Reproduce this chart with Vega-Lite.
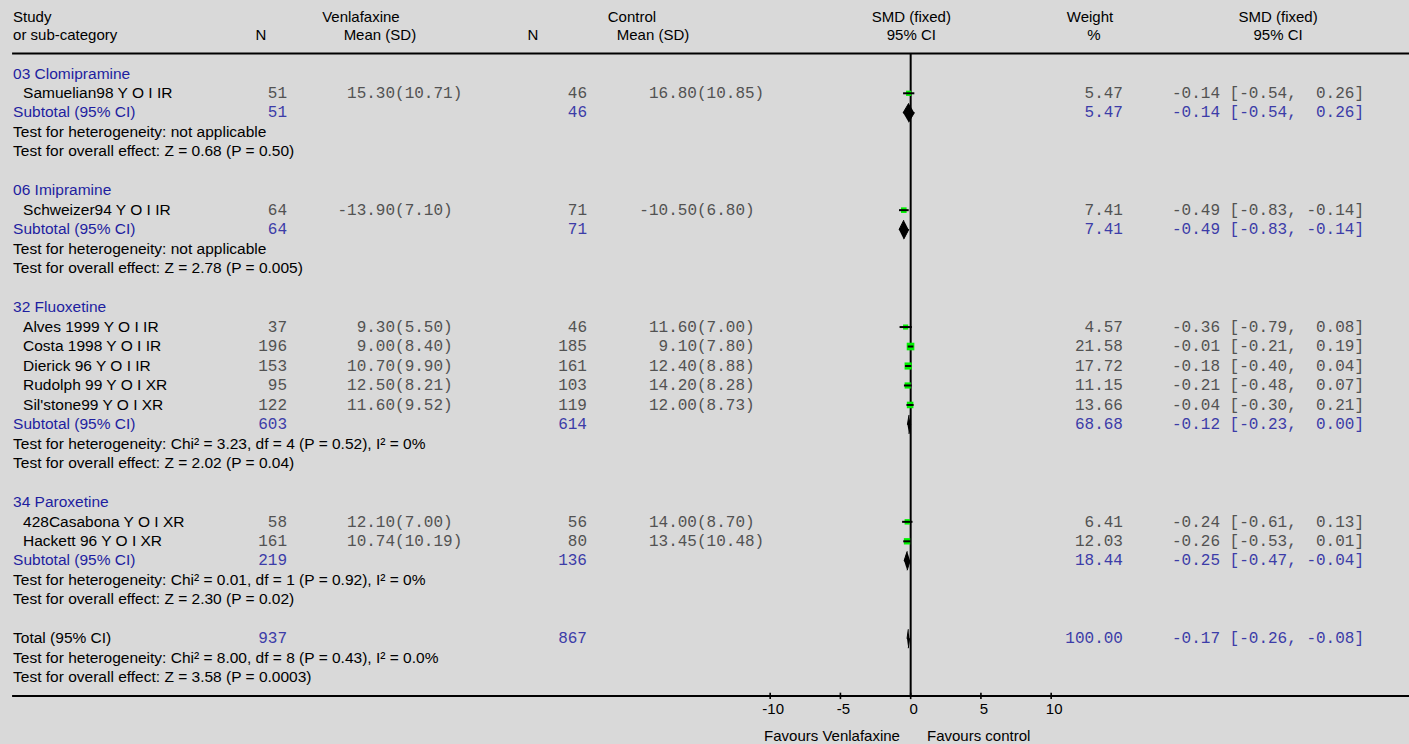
{
  "$schema": "https://vega.github.io/schema/vega-lite/v6.json",
  "width": 1409,
  "height": 744,
  "autosize": {"type": "none"},
  "padding": 0,
  "background": "#d9d9d9",
  "config": {
    "view": {"stroke": null},
    "locale": {"number": {"decimal": ".", "thousands": ",", "grouping": [3], "currency": ["(", ")"], "minus": "-"}}
  },
  "resolve": {"scale": {"y": "independent"}},
  "datasets": {
    "rows": [
      {"row": 0, "kind": "group", "label": "03 Clomipramine"},
      {"row": 1, "kind": "study", "label": "Samuelian98 Y O I IR", "n1": 51, "m1": 15.30, "sd1": 10.71, "n2": 46, "m2": 16.80, "sd2": 10.85, "w": 5.47, "smd": -0.14, "lo": -0.54, "hi": 0.26, "ci": "-0.14 [-0.54,\u00a0 0.26]"},
      {"row": 2, "kind": "sub", "label": "Subtotal (95% CI)", "n1": 51, "n2": 46, "w": 5.47, "smd": -0.14, "lo": -0.54, "hi": 0.26, "ci": "-0.14 [-0.54,\u00a0 0.26]"},
      {"row": 3, "kind": "test", "label": "Test for heterogeneity: not applicable"},
      {"row": 4, "kind": "test", "label": "Test for overall effect: Z = 0.68 (P = 0.50)"},
      {"row": 6, "kind": "group", "label": "06 Imipramine"},
      {"row": 7, "kind": "study", "label": "Schweizer94 Y O I IR", "n1": 64, "m1": -13.90, "sd1": 7.10, "n2": 71, "m2": -10.50, "sd2": 6.80, "w": 7.41, "smd": -0.49, "lo": -0.83, "hi": -0.14, "ci": "-0.49 [-0.83, -0.14]"},
      {"row": 8, "kind": "sub", "label": "Subtotal (95% CI)", "n1": 64, "n2": 71, "w": 7.41, "smd": -0.49, "lo": -0.83, "hi": -0.14, "ci": "-0.49 [-0.83, -0.14]"},
      {"row": 9, "kind": "test", "label": "Test for heterogeneity: not applicable"},
      {"row": 10, "kind": "test", "label": "Test for overall effect: Z = 2.78 (P = 0.005)"},
      {"row": 12, "kind": "group", "label": "32 Fluoxetine"},
      {"row": 13, "kind": "study", "label": "Alves 1999 Y O I IR", "n1": 37, "m1": 9.30, "sd1": 5.50, "n2": 46, "m2": 11.60, "sd2": 7.00, "w": 4.57, "smd": -0.36, "lo": -0.79, "hi": 0.08, "ci": "-0.36 [-0.79,\u00a0 0.08]"},
      {"row": 14, "kind": "study", "label": "Costa 1998 Y O I IR", "n1": 196, "m1": 9.00, "sd1": 8.40, "n2": 185, "m2": 9.10, "sd2": 7.80, "w": 21.58, "smd": -0.01, "lo": -0.21, "hi": 0.19, "ci": "-0.01 [-0.21,\u00a0 0.19]"},
      {"row": 15, "kind": "study", "label": "Dierick 96 Y O I IR", "n1": 153, "m1": 10.70, "sd1": 9.90, "n2": 161, "m2": 12.40, "sd2": 8.88, "w": 17.72, "smd": -0.18, "lo": -0.40, "hi": 0.04, "ci": "-0.18 [-0.40,\u00a0 0.04]"},
      {"row": 16, "kind": "study", "label": "Rudolph 99 Y O I XR", "n1": 95, "m1": 12.50, "sd1": 8.21, "n2": 103, "m2": 14.20, "sd2": 8.28, "w": 11.15, "smd": -0.21, "lo": -0.48, "hi": 0.07, "ci": "-0.21 [-0.48,\u00a0 0.07]"},
      {"row": 17, "kind": "study", "label": "Sil'stone99 Y O I XR", "n1": 122, "m1": 11.60, "sd1": 9.52, "n2": 119, "m2": 12.00, "sd2": 8.73, "w": 13.66, "smd": -0.04, "lo": -0.30, "hi": 0.21, "ci": "-0.04 [-0.30,\u00a0 0.21]"},
      {"row": 18, "kind": "sub", "label": "Subtotal (95% CI)", "n1": 603, "n2": 614, "w": 68.68, "smd": -0.12, "lo": -0.23, "hi": 0.00, "ci": "-0.12 [-0.23,\u00a0 0.00]"},
      {"row": 19, "kind": "test", "label": "Test for heterogeneity: Chi² = 3.23, df = 4 (P = 0.52), I² = 0%"},
      {"row": 20, "kind": "test", "label": "Test for overall effect: Z = 2.02 (P = 0.04)"},
      {"row": 22, "kind": "group", "label": "34 Paroxetine"},
      {"row": 23, "kind": "study", "label": "428Casabona Y O I XR", "n1": 58, "m1": 12.10, "sd1": 7.00, "n2": 56, "m2": 14.00, "sd2": 8.70, "w": 6.41, "smd": -0.24, "lo": -0.61, "hi": 0.13, "ci": "-0.24 [-0.61,\u00a0 0.13]"},
      {"row": 24, "kind": "study", "label": "Hackett 96 Y O I XR", "n1": 161, "m1": 10.74, "sd1": 10.19, "n2": 80, "m2": 13.45, "sd2": 10.48, "w": 12.03, "smd": -0.26, "lo": -0.53, "hi": 0.01, "ci": "-0.26 [-0.53,\u00a0 0.01]"},
      {"row": 25, "kind": "sub", "label": "Subtotal (95% CI)", "n1": 219, "n2": 136, "w": 18.44, "smd": -0.25, "lo": -0.47, "hi": -0.04, "ci": "-0.25 [-0.47, -0.04]"},
      {"row": 26, "kind": "test", "label": "Test for heterogeneity: Chi² = 0.01, df = 1 (P = 0.92), I² = 0%"},
      {"row": 27, "kind": "test", "label": "Test for overall effect: Z = 2.30 (P = 0.02)"},
      {"row": 29, "kind": "total", "label": "Total (95% CI)", "n1": 937, "n2": 867, "w": 100.00, "smd": -0.17, "lo": -0.26, "hi": -0.08, "ci": "-0.17 [-0.26, -0.08]"},
      {"row": 30, "kind": "test", "label": "Test for heterogeneity: Chi² = 8.00, df = 8 (P = 0.43), I² = 0.0%"},
      {"row": 31, "kind": "test", "label": "Test for overall effect: Z = 3.58 (P = 0.0003)"}
    ],
    "hdr": [
      {"col": "study", "row": -2.9, "t": "Study"},
      {"col": "study", "row": -2, "t": "or sub-category"},
      {"col": "n1", "row": -2, "t": "N"},
      {"col": "g1", "row": -2.9, "t": "Venlafaxine"},
      {"col": "m1", "row": -2, "t": "Mean (SD)"},
      {"col": "n2", "row": -2, "t": "N"},
      {"col": "g2", "row": -2.9, "t": "Control"},
      {"col": "m2", "row": -2, "t": "Mean (SD)"},
      {"col": "smd", "row": -2.9, "t": "SMD (fixed)"},
      {"col": "smd", "row": -2, "t": "95% CI"},
      {"col": "w", "row": -2.9, "t": "Weight"},
      {"col": "wp", "row": -2, "t": "%"},
      {"col": "ci", "row": -2.9, "t": "SMD (fixed)"},
      {"col": "ci", "row": -2, "t": "95% CI"}
    ],
    "notes": [
      {"row": 34, "side": "left", "t": "Favours Venlafaxine"},
      {"row": 34, "side": "right", "t": "Favours control"}
    ],
    "ticks": [{"v": -10}, {"v": -5}, {"v": 0}, {"v": 5}, {"v": 10}],
    "vtx": [
      {"key": "lo", "up": 0, "dn": 0},
      {"key": "smd", "up": -1, "dn": 1},
      {"key": "hi", "up": 0, "dn": 0}
    ]
  },
  "layer": [
    {
      "data": {"values": [{}]},
      "mark": {"type": "rule", "color": "#000", "strokeWidth": 2},
      "encoding": {
        "x": {"datum": -63.96, "type": "quantitative", "scale": {"domain": [-64.82, 35.47], "nice": false, "zero": false}, "axis": null},
        "x2": {"datum": 35.47},
        "y": {"datum": -1.04, "type": "quantitative", "scale": {"domain": [-3.789, 34.405], "reverse": true, "nice": false, "zero": false}, "axis": null}
      }
    },
    {
      "data": {"values": [{}]},
      "mark": {"type": "rule", "color": "#000", "strokeWidth": 2},
      "encoding": {
        "x": {"datum": -63.96, "type": "quantitative", "scale": {"domain": [-64.82, 35.47], "nice": false, "zero": false}, "axis": null},
        "x2": {"datum": 35.47},
        "y": {"datum": 31.94, "type": "quantitative", "scale": {"domain": [-3.789, 34.405], "reverse": true, "nice": false, "zero": false}, "axis": null}
      }
    },
    {
      "data": {"values": [{}]},
      "mark": {"type": "rule", "color": "#000", "strokeWidth": 2},
      "encoding": {
        "x": {"datum": 0, "type": "quantitative", "scale": {"domain": [-64.82, 35.47], "nice": false, "zero": false}, "axis": null},
        "y": {"datum": -1.04, "type": "quantitative", "scale": {"domain": [-3.789, 34.405], "reverse": true, "nice": false, "zero": false}, "axis": null},
        "y2": {"datum": 31.94}
      }
    },
    {
      "data": {"name": "ticks"},
      "mark": {"type": "rule", "color": "#000", "strokeWidth": 1.6},
      "encoding": {
        "x": {"field": "v", "type": "quantitative", "scale": {"domain": [-64.82, 35.47], "nice": false, "zero": false}, "axis": null},
        "y": {"datum": 31.77, "type": "quantitative", "scale": {"domain": [-3.789, 34.405], "reverse": true, "nice": false, "zero": false}, "axis": null},
        "y2": {"datum": 32.1}
      }
    },
    {
      "data": {"name": "ticks"},
      "mark": {"type": "text", "align": "center", "baseline": "alphabetic", "dy": 4.7, "dx": 3, "font": "Liberation Sans", "fontSize": 15, "color": "#000"},
      "encoding": {
        "x": {"field": "v", "type": "quantitative", "scale": {"domain": [-64.82, 35.47], "nice": false, "zero": false}, "axis": null},
        "y": {"datum": 32.62, "type": "quantitative", "scale": {"domain": [-3.789, 34.405], "reverse": true, "nice": false, "zero": false}, "axis": null},
        "text": {"field": "v", "type": "quantitative", "format": "d"}
      }
    },
    {
      "data": {"name": "rows"},
      "transform": [{"filter": "datum.kind === 'study'"}],
      "mark": {"type": "point", "shape": "square", "filled": true, "color": "#00f000", "opacity": 1},
      "encoding": {
        "x": {"field": "smd", "type": "quantitative", "scale": {"domain": [-64.82, 35.47], "nice": false, "zero": false}, "axis": null},
        "y": {"field": "row", "type": "quantitative", "scale": {"domain": [-3.789, 34.405], "reverse": true, "nice": false, "zero": false}, "axis": null},
        "size": {"field": "w", "type": "quantitative", "scale": {"domain": [4.5, 21.6], "range": [26, 58]}, "legend": null}
      }
    },
    {
      "data": {"name": "rows"},
      "transform": [{"filter": "datum.kind === 'study'"}],
      "mark": {"type": "rule", "color": "#000", "strokeWidth": 2},
      "encoding": {
        "x": {"field": "lo", "type": "quantitative", "scale": {"domain": [-64.82, 35.47], "nice": false, "zero": false}, "axis": null},
        "x2": {"field": "hi"},
        "y": {"field": "row", "type": "quantitative", "scale": {"domain": [-3.789, 34.405], "reverse": true, "nice": false, "zero": false}, "axis": null}
      }
    },
    {
      "data": {"name": "rows"},
      "transform": [
        {"filter": "datum.kind === 'sub' || datum.kind === 'total'"},
        {"fold": ["lo", "smd", "hi"]},
        {"lookup": "key", "from": {"data": {"name": "vtx"}, "key": "key", "fields": ["up", "dn"]}}
      ],
      "mark": {"type": "line", "filled": true, "fill": "#000", "stroke": "#000", "strokeWidth": 1},
      "encoding": {
        "x": {"field": "value", "type": "quantitative", "scale": {"domain": [-64.82, 35.47], "nice": false, "zero": false}, "axis": null},
        "y": {"field": "row", "type": "ordinal", "scale": {"type": "point", "domain": [0,1,2,3,4,5,6,7,8,9,10,11,12,13,14,15,16,17,18,19,20,21,22,23,24,25,26,27,28,29,30,31], "range": [73.8, 677.68], "padding": 0}, "axis": null},
        "yOffset": {"field": "up", "type": "quantitative", "scale": {"domain": [-1, 1], "range": [-9.5, 9.5]}},
        "detail": {"field": "row", "type": "nominal"}
      }
    },
    {
      "data": {"name": "rows"},
      "transform": [
        {"filter": "datum.kind === 'sub' || datum.kind === 'total'"},
        {"fold": ["lo", "smd", "hi"]},
        {"lookup": "key", "from": {"data": {"name": "vtx"}, "key": "key", "fields": ["up", "dn"]}}
      ],
      "mark": {"type": "line", "filled": true, "fill": "#000", "stroke": "#000", "strokeWidth": 1},
      "encoding": {
        "x": {"field": "value", "type": "quantitative", "scale": {"domain": [-64.82, 35.47], "nice": false, "zero": false}, "axis": null},
        "y": {"field": "row", "type": "ordinal", "scale": {"type": "point", "domain": [0,1,2,3,4,5,6,7,8,9,10,11,12,13,14,15,16,17,18,19,20,21,22,23,24,25,26,27,28,29,30,31], "range": [73.8, 677.68], "padding": 0}, "axis": null},
        "yOffset": {"field": "dn", "type": "quantitative", "scale": {"domain": [-1, 1], "range": [-9.5, 9.5]}},
        "detail": {"field": "row", "type": "nominal"}
      }
    },
    {
      "data": {"name": "hdr"},
      "transform": [{"filter": "datum.col === 'study'"}],
      "mark": {"type": "text", "align": "left", "baseline": "alphabetic", "dy": 4.7, "font": "Liberation Sans", "fontSize": 15, "color": "#000"},
      "encoding": {"x": {"datum": -63.89, "type": "quantitative", "scale": {"domain": [-64.82, 35.47], "nice": false, "zero": false}, "axis": null},
        "y": {"field": "row", "type": "quantitative", "scale": {"domain": [-3.789, 34.405], "reverse": true, "nice": false, "zero": false}, "axis": null}, "text": {"field": "t"}}
    },
    {
      "data": {"name": "hdr"},
      "transform": [{"filter": "datum.col === 'n1'"}],
      "mark": {"type": "text", "align": "center", "baseline": "alphabetic", "dy": 4.7, "font": "Liberation Sans", "fontSize": 15, "color": "#000"},
      "encoding": {"x": {"datum": -46.24, "type": "quantitative", "scale": {"domain": [-64.82, 35.47], "nice": false, "zero": false}, "axis": null},
        "y": {"field": "row", "type": "quantitative", "scale": {"domain": [-3.789, 34.405], "reverse": true, "nice": false, "zero": false}, "axis": null}, "text": {"field": "t"}}
    },
    {
      "data": {"name": "hdr"},
      "transform": [{"filter": "datum.col === 'g1'"}],
      "mark": {"type": "text", "align": "center", "baseline": "alphabetic", "dy": 4.7, "font": "Liberation Sans", "fontSize": 15, "color": "#000"},
      "encoding": {"x": {"datum": -39.13, "type": "quantitative", "scale": {"domain": [-64.82, 35.47], "nice": false, "zero": false}, "axis": null},
        "y": {"field": "row", "type": "quantitative", "scale": {"domain": [-3.789, 34.405], "reverse": true, "nice": false, "zero": false}, "axis": null}, "text": {"field": "t"}}
    },
    {
      "data": {"name": "hdr"},
      "transform": [{"filter": "datum.col === 'm1'"}],
      "mark": {"type": "text", "align": "center", "baseline": "alphabetic", "dy": 4.7, "font": "Liberation Sans", "fontSize": 15, "color": "#000"},
      "encoding": {"x": {"datum": -37.78, "type": "quantitative", "scale": {"domain": [-64.82, 35.47], "nice": false, "zero": false}, "axis": null},
        "y": {"field": "row", "type": "quantitative", "scale": {"domain": [-3.789, 34.405], "reverse": true, "nice": false, "zero": false}, "axis": null}, "text": {"field": "t"}}
    },
    {
      "data": {"name": "hdr"},
      "transform": [{"filter": "datum.col === 'n2'"}],
      "mark": {"type": "text", "align": "center", "baseline": "alphabetic", "dy": 4.7, "font": "Liberation Sans", "fontSize": 15, "color": "#000"},
      "encoding": {"x": {"datum": -26.88, "type": "quantitative", "scale": {"domain": [-64.82, 35.47], "nice": false, "zero": false}, "axis": null},
        "y": {"field": "row", "type": "quantitative", "scale": {"domain": [-3.789, 34.405], "reverse": true, "nice": false, "zero": false}, "axis": null}, "text": {"field": "t"}}
    },
    {
      "data": {"name": "hdr"},
      "transform": [{"filter": "datum.col === 'g2'"}],
      "mark": {"type": "text", "align": "center", "baseline": "alphabetic", "dy": 4.7, "font": "Liberation Sans", "fontSize": 15, "color": "#000"},
      "encoding": {"x": {"datum": -19.84, "type": "quantitative", "scale": {"domain": [-64.82, 35.47], "nice": false, "zero": false}, "axis": null},
        "y": {"field": "row", "type": "quantitative", "scale": {"domain": [-3.789, 34.405], "reverse": true, "nice": false, "zero": false}, "axis": null}, "text": {"field": "t"}}
    },
    {
      "data": {"name": "hdr"},
      "transform": [{"filter": "datum.col === 'm2'"}],
      "mark": {"type": "text", "align": "center", "baseline": "alphabetic", "dy": 4.7, "font": "Liberation Sans", "fontSize": 15, "color": "#000"},
      "encoding": {"x": {"datum": -18.34, "type": "quantitative", "scale": {"domain": [-64.82, 35.47], "nice": false, "zero": false}, "axis": null},
        "y": {"field": "row", "type": "quantitative", "scale": {"domain": [-3.789, 34.405], "reverse": true, "nice": false, "zero": false}, "axis": null}, "text": {"field": "t"}}
    },
    {
      "data": {"name": "hdr"},
      "transform": [{"filter": "datum.col === 'smd'"}],
      "mark": {"type": "text", "align": "center", "baseline": "alphabetic", "dy": 4.7, "font": "Liberation Sans", "fontSize": 15, "color": "#000"},
      "encoding": {"x": {"datum": 0.05, "type": "quantitative", "scale": {"domain": [-64.82, 35.47], "nice": false, "zero": false}, "axis": null},
        "y": {"field": "row", "type": "quantitative", "scale": {"domain": [-3.789, 34.405], "reverse": true, "nice": false, "zero": false}, "axis": null}, "text": {"field": "t"}}
    },
    {
      "data": {"name": "hdr"},
      "transform": [{"filter": "datum.col === 'w'"}],
      "mark": {"type": "text", "align": "center", "baseline": "alphabetic", "dy": 4.7, "font": "Liberation Sans", "fontSize": 15, "color": "#000"},
      "encoding": {"x": {"datum": 12.76, "type": "quantitative", "scale": {"domain": [-64.82, 35.47], "nice": false, "zero": false}, "axis": null},
        "y": {"field": "row", "type": "quantitative", "scale": {"domain": [-3.789, 34.405], "reverse": true, "nice": false, "zero": false}, "axis": null}, "text": {"field": "t"}}
    },
    {
      "data": {"name": "hdr"},
      "transform": [{"filter": "datum.col === 'wp'"}],
      "mark": {"type": "text", "align": "center", "baseline": "alphabetic", "dy": 4.7, "font": "Liberation Sans", "fontSize": 15, "color": "#000"},
      "encoding": {"x": {"datum": 13.04, "type": "quantitative", "scale": {"domain": [-64.82, 35.47], "nice": false, "zero": false}, "axis": null},
        "y": {"field": "row", "type": "quantitative", "scale": {"domain": [-3.789, 34.405], "reverse": true, "nice": false, "zero": false}, "axis": null}, "text": {"field": "t"}}
    },
    {
      "data": {"name": "hdr"},
      "transform": [{"filter": "datum.col === 'ci'"}],
      "mark": {"type": "text", "align": "center", "baseline": "alphabetic", "dy": 4.7, "font": "Liberation Sans", "fontSize": 15, "color": "#000"},
      "encoding": {"x": {"datum": 26.15, "type": "quantitative", "scale": {"domain": [-64.82, 35.47], "nice": false, "zero": false}, "axis": null},
        "y": {"field": "row", "type": "quantitative", "scale": {"domain": [-3.789, 34.405], "reverse": true, "nice": false, "zero": false}, "axis": null}, "text": {"field": "t"}}
    },
    {
      "data": {"name": "rows"},
      "transform": [{"filter": "datum.kind !== 'study'"}],
      "mark": {"type": "text", "align": "left", "baseline": "alphabetic", "dy": 4.7, "font": "Liberation Sans", "fontSize": 15.5},
      "encoding": {
        "x": {"datum": -63.89, "type": "quantitative", "scale": {"domain": [-64.82, 35.47], "nice": false, "zero": false}, "axis": null},
        "y": {"field": "row", "type": "quantitative", "scale": {"domain": [-3.789, 34.405], "reverse": true, "nice": false, "zero": false}, "axis": null},
        "text": {"field": "label"},
        "color": {"field": "kind", "type": "nominal", "scale": {"domain": ["group", "sub", "test", "total"], "range": ["#1e1ea0", "#1e1ea0", "#000000", "#000000"]}, "legend": null}
      }
    },
    {
      "data": {"name": "rows"},
      "transform": [{"filter": "datum.kind === 'study'"}],
      "mark": {"type": "text", "align": "left", "baseline": "alphabetic", "dy": 4.7, "font": "Liberation Sans", "fontSize": 15.5, "color": "#000"},
      "encoding": {
        "x": {"datum": -63.18, "type": "quantitative", "scale": {"domain": [-64.82, 35.47], "nice": false, "zero": false}, "axis": null},
        "y": {"field": "row", "type": "quantitative", "scale": {"domain": [-3.789, 34.405], "reverse": true, "nice": false, "zero": false}, "axis": null},
        "text": {"field": "label"}
      }
    },
    {
      "data": {"name": "rows"},
      "transform": [{"filter": "isValid(datum.n1)"}],
      "mark": {"type": "text", "align": "right", "baseline": "alphabetic", "dy": 4.7, "font": "Liberation Mono", "fontSize": 16},
      "encoding": {
        "x": {"datum": -44.39, "type": "quantitative", "scale": {"domain": [-64.82, 35.47], "nice": false, "zero": false}, "axis": null},
        "y": {"field": "row", "type": "quantitative", "scale": {"domain": [-3.789, 34.405], "reverse": true, "nice": false, "zero": false}, "axis": null},
        "text": {"field": "n1", "type": "quantitative", "format": "d"},
        "fill": {"field": "kind", "type": "nominal", "scale": {"domain": ["study", "sub", "total"], "range": ["#525252", "#3c3ca8", "#3c3ca8"]}, "legend": null}
      }
    },
    {
      "data": {"name": "rows"},
      "transform": [{"filter": "isValid(datum.m1)"}],
      "mark": {"type": "text", "align": "right", "baseline": "alphabetic", "dy": 4.7, "font": "Liberation Mono", "fontSize": 16, "color": "#525252"},
      "encoding": {
        "x": {"datum": -36.70, "type": "quantitative", "scale": {"domain": [-64.82, 35.47], "nice": false, "zero": false}, "axis": null},
        "y": {"field": "row", "type": "quantitative", "scale": {"domain": [-3.789, 34.405], "reverse": true, "nice": false, "zero": false}, "axis": null},
        "text": {"field": "m1", "type": "quantitative", "format": ".2f"}
      }
    },
    {
      "data": {"name": "rows"},
      "transform": [{"filter": "isValid(datum.sd1)"}],
      "mark": {"type": "text", "align": "left", "baseline": "alphabetic", "dy": 4.7, "font": "Liberation Mono", "fontSize": 16, "color": "#525252"},
      "encoding": {
        "x": {"datum": -36.70, "type": "quantitative", "scale": {"domain": [-64.82, 35.47], "nice": false, "zero": false}, "axis": null},
        "y": {"field": "row", "type": "quantitative", "scale": {"domain": [-3.789, 34.405], "reverse": true, "nice": false, "zero": false}, "axis": null},
        "text": {"field": "sd1", "type": "quantitative", "format": "$.2f"}
      }
    },
    {
      "data": {"name": "rows"},
      "transform": [{"filter": "isValid(datum.n2)"}],
      "mark": {"type": "text", "align": "right", "baseline": "alphabetic", "dy": 4.7, "font": "Liberation Mono", "fontSize": 16},
      "encoding": {
        "x": {"datum": -23.04, "type": "quantitative", "scale": {"domain": [-64.82, 35.47], "nice": false, "zero": false}, "axis": null},
        "y": {"field": "row", "type": "quantitative", "scale": {"domain": [-3.789, 34.405], "reverse": true, "nice": false, "zero": false}, "axis": null},
        "text": {"field": "n2", "type": "quantitative", "format": "d"},
        "fill": {"field": "kind", "type": "nominal", "scale": {"domain": ["study", "sub", "total"], "range": ["#525252", "#3c3ca8", "#3c3ca8"]}, "legend": null}
      }
    },
    {
      "data": {"name": "rows"},
      "transform": [{"filter": "isValid(datum.m2)"}],
      "mark": {"type": "text", "align": "right", "baseline": "alphabetic", "dy": 4.7, "font": "Liberation Mono", "fontSize": 16, "color": "#525252"},
      "encoding": {
        "x": {"datum": -15.21, "type": "quantitative", "scale": {"domain": [-64.82, 35.47], "nice": false, "zero": false}, "axis": null},
        "y": {"field": "row", "type": "quantitative", "scale": {"domain": [-3.789, 34.405], "reverse": true, "nice": false, "zero": false}, "axis": null},
        "text": {"field": "m2", "type": "quantitative", "format": ".2f"}
      }
    },
    {
      "data": {"name": "rows"},
      "transform": [{"filter": "isValid(datum.sd2)"}],
      "mark": {"type": "text", "align": "left", "baseline": "alphabetic", "dy": 4.7, "font": "Liberation Mono", "fontSize": 16, "color": "#525252"},
      "encoding": {
        "x": {"datum": -15.21, "type": "quantitative", "scale": {"domain": [-64.82, 35.47], "nice": false, "zero": false}, "axis": null},
        "y": {"field": "row", "type": "quantitative", "scale": {"domain": [-3.789, 34.405], "reverse": true, "nice": false, "zero": false}, "axis": null},
        "text": {"field": "sd2", "type": "quantitative", "format": "$.2f"}
      }
    },
    {
      "data": {"name": "rows"},
      "transform": [{"filter": "isValid(datum.w)"}],
      "mark": {"type": "text", "align": "right", "baseline": "alphabetic", "dy": 4.7, "font": "Liberation Mono", "fontSize": 16},
      "encoding": {
        "x": {"datum": 15.11, "type": "quantitative", "scale": {"domain": [-64.82, 35.47], "nice": false, "zero": false}, "axis": null},
        "y": {"field": "row", "type": "quantitative", "scale": {"domain": [-3.789, 34.405], "reverse": true, "nice": false, "zero": false}, "axis": null},
        "text": {"field": "w", "type": "quantitative", "format": ".2f"},
        "fill": {"field": "kind", "type": "nominal", "scale": {"domain": ["study", "sub", "total"], "range": ["#525252", "#3c3ca8", "#3c3ca8"]}, "legend": null}
      }
    },
    {
      "data": {"name": "rows"},
      "transform": [{"filter": "isValid(datum.ci)"}],
      "mark": {"type": "text", "align": "left", "baseline": "alphabetic", "dy": 4.7, "font": "Liberation Mono", "fontSize": 16},
      "encoding": {
        "x": {"datum": 18.60, "type": "quantitative", "scale": {"domain": [-64.82, 35.47], "nice": false, "zero": false}, "axis": null},
        "y": {"field": "row", "type": "quantitative", "scale": {"domain": [-3.789, 34.405], "reverse": true, "nice": false, "zero": false}, "axis": null},
        "text": {"field": "ci"},
        "fill": {"field": "kind", "type": "nominal", "scale": {"domain": ["study", "sub", "total"], "range": ["#525252", "#3c3ca8", "#3c3ca8"]}, "legend": null}
      }
    },
    {
      "data": {"name": "notes"},
      "transform": [{"filter": "datum.side === 'left'"}],
      "mark": {"type": "text", "align": "right", "baseline": "alphabetic", "dy": 4.7, "dx": -10.7, "font": "Liberation Sans", "fontSize": 15, "color": "#000"},
      "encoding": {
        "x": {"datum": 0, "type": "quantitative", "scale": {"domain": [-64.82, 35.47], "nice": false, "zero": false}, "axis": null},
        "y": {"field": "row", "type": "quantitative", "scale": {"domain": [-3.789, 34.405], "reverse": true, "nice": false, "zero": false}, "axis": null},
        "text": {"field": "t"}
      }
    },
    {
      "data": {"name": "notes"},
      "transform": [{"filter": "datum.side === 'right'"}],
      "mark": {"type": "text", "align": "left", "baseline": "alphabetic", "dy": 4.7, "dx": 16.3, "font": "Liberation Sans", "fontSize": 15, "color": "#000"},
      "encoding": {
        "x": {"datum": 0, "type": "quantitative", "scale": {"domain": [-64.82, 35.47], "nice": false, "zero": false}, "axis": null},
        "y": {"field": "row", "type": "quantitative", "scale": {"domain": [-3.789, 34.405], "reverse": true, "nice": false, "zero": false}, "axis": null},
        "text": {"field": "t"}
      }
    }
  ]
}
